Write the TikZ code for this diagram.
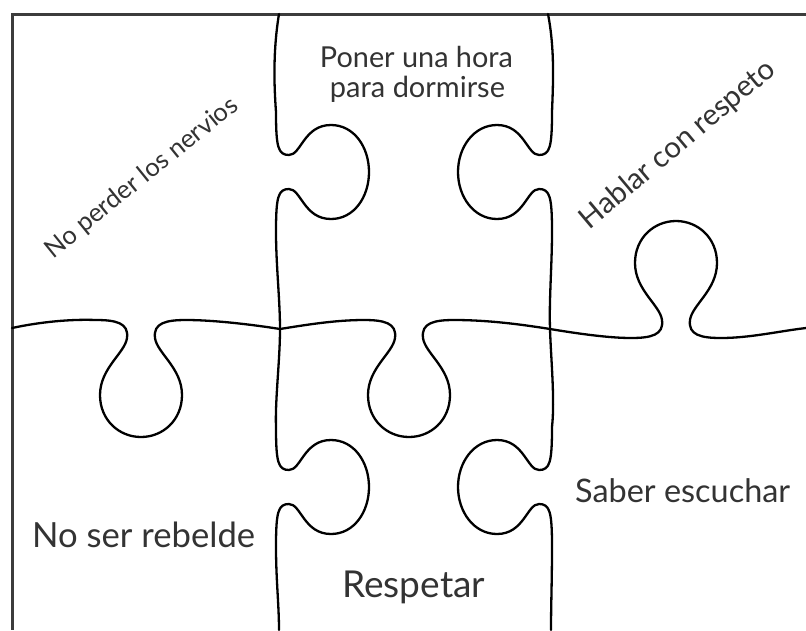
\documentclass[tikz,border=0pt]{standalone}
\usepackage{fontspec}
\setmainfont{Lato}
\usepackage{graphicx}
\definecolor{tx}{HTML}{333333}
\definecolor{fr}{HTML}{3C3C3C}
% right-pointing knob on a vertical edge (line x=#1, centre y=#2)
\newcommand\rtab[2]{.. controls (#1,{#2-25}) and ({#1+2},{#2-17}) .. ({#1+13},{#2-17})
 .. controls ({#1+25},{#2-17}) and ({#1+28},{#2-47}) .. ({#1+55},{#2-47})
 .. controls ({#1+78},{#2-47}) and ({#1+93},{#2-25}) .. ({#1+93},#2)
 .. controls ({#1+93},{#2+25}) and ({#1+78},{#2+47}) .. ({#1+55},{#2+47})
 .. controls ({#1+28},{#2+47}) and ({#1+25},{#2+17}) .. ({#1+13},{#2+17})
 .. controls ({#1+2},{#2+17}) and (#1,{#2+25}) .. (#1,{#2+60})}
% left-pointing knob
\newcommand\ltab[2]{.. controls (#1,{#2-25}) and ({#1-2},{#2-17}) .. ({#1-13},{#2-17})
 .. controls ({#1-25},{#2-17}) and ({#1-28},{#2-47}) .. ({#1-55},{#2-47})
 .. controls ({#1-78},{#2-47}) and ({#1-94},{#2-25}) .. ({#1-94},#2)
 .. controls ({#1-94},{#2+25}) and ({#1-78},{#2+47}) .. ({#1-55},{#2+47})
 .. controls ({#1-28},{#2+47}) and ({#1-25},{#2+17}) .. ({#1-13},{#2+17})
 .. controls ({#1-2},{#2+17}) and (#1,{#2+25}) .. (#1,{#2+60})}
% downward knob on the horizontal edge
\newcommand\dtab[1]{.. controls ({#1-25},320) and ({#1-12},323) .. ({#1-14},338)
 .. controls ({#1-16},353) and ({#1-41},368) .. ({#1-41},395)
 .. controls ({#1-41},420) and ({#1-22},437) .. (#1,437)
 .. controls ({#1+22},437) and ({#1+41},420) .. ({#1+41},395)
 .. controls ({#1+41},368) and ({#1+16},353) .. ({#1+14},338)
 .. controls ({#1+12},323) and ({#1+25},320) .. ({#1+45},320)}
% upward knob on the horizontal edge
\newcommand\utab[1]{.. controls ({#1-25},338) and ({#1-12},335) .. ({#1-14},320)
 .. controls ({#1-16},305) and ({#1-41},290) .. ({#1-41},263)
 .. controls ({#1-41},238) and ({#1-22},221) .. (#1,221)
 .. controls ({#1+22},221) and ({#1+41},238) .. ({#1+41},263)
 .. controls ({#1+41},290) and ({#1+16},305) .. ({#1+14},320)
 .. controls ({#1+12},335) and ({#1+25},338) .. ({#1+45},338)}
\begin{document}
\begin{tikzpicture}[x=1pt,y=-1pt,
  pz/.style={line width=2.3pt,black,line cap=round,line join=round},
  frame/.style={line width=3pt,fr},
  txt/.style={inner sep=0pt,text=tx}]
\useasboundingbox[fill=white] (0,0) rectangle (806,630);
% frame (top and left edges)
\draw[frame] (806,14) -- (12,14) -- (12,630);
% left vertical cut
\draw[pz] (279,14) .. controls (273,50) and (274,85) .. (276,112) \rtab{276}{172}
  .. controls (276,265) and (280,300) .. (280,329)
  .. controls (280,360) and (275,400) .. (276,427) \rtab{276}{487}
  .. controls (276,580) and (279,605) .. (279,630);
% right vertical cut
\draw[pz] (548,14) .. controls (555,50) and (553,85) .. (552,112) \ltab{552}{172}
  .. controls (552,265) and (549,300) .. (550,329)
  .. controls (551,360) and (555,400) .. (552,427) \ltab{552}{487}
  .. controls (552,580) and (551,605) .. (551,630);
% horizontal cut
\draw[pz] (12,328) .. controls (40,322) and (70,319) .. (96,320) \dtab{141}
  .. controls (215,320) and (255,325) .. (280,329)
  .. controls (305,325) and (335,320) .. (364,320) \dtab{409}
  .. controls (490,320) and (525,325) .. (550,329)
  .. controls (580,334) and (610,338) .. (631,338) \utab{676}
  .. controls (750,338) and (780,331) .. (806,328);
% texts
\node[txt,anchor=base] (poner) at (416.5,67) {\resizebox{193pt}{!}{Poner una hora}};
\node[txt,anchor=base] (para) at (417.5,97) {\resizebox{175pt}{!}{para dormirse}};
\node[txt,rotate=39] (nervios) at (142,178) {\resizebox{240pt}{!}{No perder los nervios}};
\node[txt,rotate=40] (hablar) at (678,145) {\resizebox{245pt}{!}{Hablar con respeto}};
\node[txt,anchor=base west] (rebelde) at (32,547) {\resizebox{223pt}{!}{No ser rebelde}};
\node[txt,anchor=base west] (saber) at (575,502) {\resizebox{215pt}{!}{Saber escuchar}};
\node[txt,anchor=base west] (respetar) at (342,597) {\resizebox{143pt}{!}{Respetar}};
\end{tikzpicture}
\end{document}
